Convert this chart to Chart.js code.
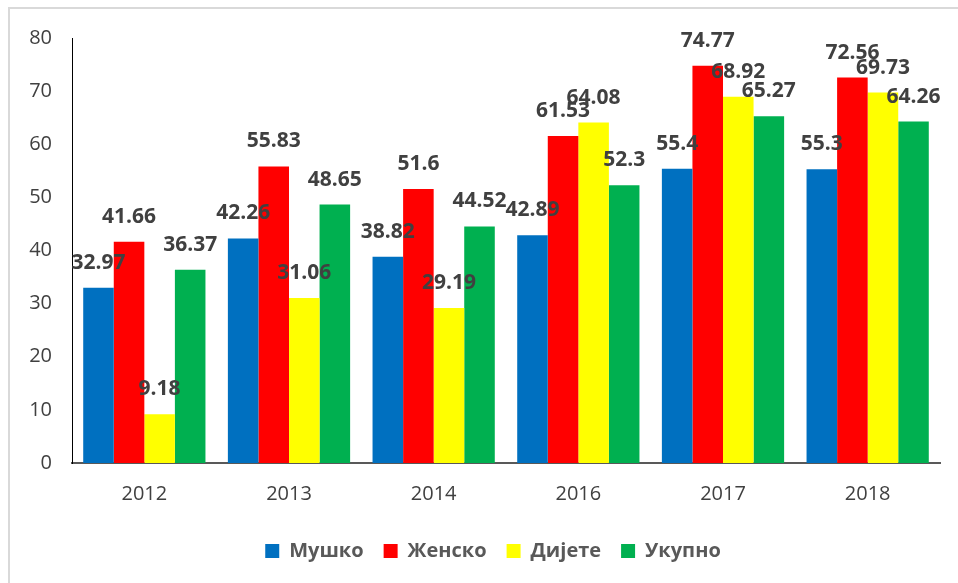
<!DOCTYPE html>
<html>
<head>
<meta charset="utf-8">
<script src="https://cdn.jsdelivr.net/npm/chart.js@4/dist/chart.umd.min.js"></script>
<style>
html,body{margin:0;padding:0;background:#fff;overflow:hidden;}
#wrap{position:absolute;left:0;top:0;width:958px;height:583px;}
#frame{position:absolute;left:8px;top:7px;width:1000px;height:700px;border:2px solid #d9d9d9;box-sizing:border-box;}
canvas{position:absolute;left:0;top:0;}
</style>
</head>
<body>
<div id="wrap"><div id="frame"></div><canvas id="c" width="958" height="583"></canvas></div>
<script>
const categories = ['2012', '2013', '2014', '2016', '2017', '2018'];
const seriesNames = ['Мушко', 'Женско', 'Дијете', 'Укупно'];
const musko  = [32.97, 42.26, 38.82, 42.89, 55.4, 55.3];
const zensko = [41.66, 55.83, 51.6, 61.53, 74.77, 72.56];
const dijete = [9.18, 31.06, 29.19, 64.08, 68.92, 69.73];
const ukupno = [36.37, 48.65, 44.52, 52.3, 65.27, 64.26];
const colors = ['#0070C0', '#FF0000', '#FFFF00', '#00B050'];

const labelPlugin = {
  id: 'barLabels',
  afterDatasetsDraw(chart) {
    const ctx = chart.ctx;
    const area = chart.chartArea;
    ctx.save();
    ctx.beginPath();
    ctx.rect(area.left, 0, chart.width - area.left, chart.height);
    ctx.clip();
    ctx.font = 'bold 21px "Open Sans", sans-serif';
    ctx.fillStyle = '#404040';
    ctx.textAlign = 'center';
    ctx.textBaseline = 'middle';
    chart.data.datasets.forEach((ds, di) => {
      const meta = chart.getDatasetMeta(di);
      meta.data.forEach((bar, i) => {
        ctx.fillText(String(ds.data[i]), bar.x, bar.y - 25);
      });
    });
    ctx.restore();
  }
};

const legendShift = {
  id: 'legendShift',
  afterLayout(chart) {
    const lg = chart.legend;
    if (!lg) return;
    lg.left += 23; lg.right += 23;
    lg.top -= 4; lg.bottom -= 4;
  }
};

new Chart(document.getElementById('c'), {
  type: 'bar',
  data: {
    labels: categories,
    datasets: [musko, zensko, dijete, ukupno].map((d, i) => ({
      label: seriesNames[i],
      data: d,
      backgroundColor: colors[i],
      borderWidth: 0,
      categoryPercentage: 0.845,
      barPercentage: 1.0
    }))
  },
  options: {
    responsive: false,
    animation: false,
    devicePixelRatio: 1,
    layout: { padding: { top: 38, right: 18, left: 0, bottom: 8 } },
    plugins: {
      legend: {
        position: 'bottom',
        labels: {
          font: { family: '"Open Sans", sans-serif', size: 20, weight: 'bold' },
          color: '#595959',
          boxWidth: 14,
          boxHeight: 14,
          padding: 20
        }
      },
      tooltip: { enabled: false }
    },
    scales: {
      x: {
        grid: { display: false, drawTicks: false },
        border: { display: true, color: '#595959', width: 2 },
        ticks: { color: '#404040', font: { family: '"Open Sans", sans-serif', size: 20 }, padding: 19 }
      },
      y: {
        min: 0, max: 80,
        grid: { display: false, drawTicks: false },
        border: { display: true, color: '#000000', width: 1 },
        ticks: { stepSize: 10, color: '#404040', font: { family: '"Open Sans", sans-serif', size: 20 }, padding: 20 },
        afterFit(scale) { scale.width = 72; }
      }
    }
  },
  plugins: [labelPlugin, legendShift]
});
</script>
</body>
</html>
